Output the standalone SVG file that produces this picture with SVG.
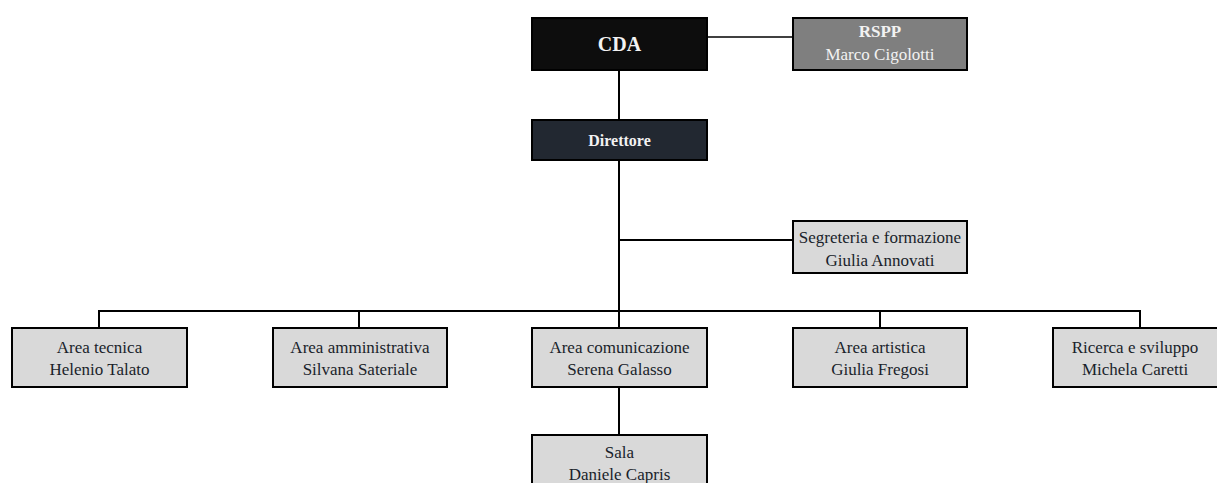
<svg xmlns="http://www.w3.org/2000/svg" width="1217" height="483" viewBox="0 0 1217 483">
<style>
.box{stroke:#000;stroke-width:2}
.light{fill:#d9d9d9}
.t{font-family:"Liberation Serif","Times New Roman",serif;font-size:17px;fill:#1a1f2b;text-anchor:middle}
.w{fill:#f2f2f2}
.b{font-weight:bold}
.ln{stroke:#000;stroke-width:2;fill:none}
</style>
<rect width="1217" height="483" fill="#fff"/>
<g id="connectors">
<line class="ln" x1="707" y1="37" x2="793" y2="37" style="stroke-width:1.5"/>
<line class="ln" x1="619" y1="70" x2="619" y2="120"/>
<line class="ln" x1="619" y1="160" x2="619" y2="329"/>
<line class="ln" x1="619" y1="240" x2="793" y2="240"/>
<polyline class="ln" points="99,328 99,311 1140,311 1140,328"/>
<line class="ln" x1="359" y1="311" x2="359" y2="328"/>
<line class="ln" x1="880" y1="311" x2="880" y2="328"/>
<line class="ln" x1="619" y1="388" x2="619" y2="435"/>
</g>
<g id="cda">
<rect class="box" x="532" y="18" width="175" height="52" fill="#0d0d0d"/>
<text class="t w b" x="619.5" y="51" style="font-size:20px">CDA</text>
</g>
<g id="rspp">
<rect class="box" x="793" y="18" width="174" height="52" fill="#7f7f7f"/>
<text class="t w b" x="880" y="37">RSPP</text>
<text class="t w" x="880" y="60">Marco Cigolotti</text>
</g>
<g id="direttore">
<rect class="box" x="532" y="120" width="175" height="40" fill="#222831"/>
<text class="t w b" x="619.5" y="146" style="font-size:16px">Direttore</text>
</g>
<g id="segreteria">
<rect class="box light" x="793" y="221" width="174" height="52"/>
<text class="t" x="880" y="243">Segreteria e formazione</text>
<text class="t" x="880" y="266">Giulia Annovati</text>
</g>
<g id="area-tecnica">
<rect class="box light" x="12" y="328" width="175" height="59"/>
<text class="t" x="99.5" y="353">Area tecnica</text>
<text class="t" x="99.5" y="375">Helenio Talato</text>
</g>
<g id="area-amministrativa">
<rect class="box light" x="273" y="328" width="174" height="59"/>
<text class="t" x="360" y="353">Area amministrativa</text>
<text class="t" x="360" y="375">Silvana Sateriale</text>
</g>
<g id="area-comunicazione">
<rect class="box light" x="532" y="328" width="175" height="59"/>
<text class="t" x="619.5" y="353">Area comunicazione</text>
<text class="t" x="619.5" y="375">Serena Galasso</text>
</g>
<g id="area-artistica">
<rect class="box light" x="793" y="328" width="174" height="59"/>
<text class="t" x="880" y="353">Area artistica</text>
<text class="t" x="880" y="375">Giulia Fregosi</text>
</g>
<g id="ricerca">
<rect class="box light" x="1053" y="328" width="175" height="59"/>
<text class="t" x="1135" y="353">Ricerca e sviluppo</text>
<text class="t" x="1135" y="375">Michela Caretti</text>
</g>
<g id="sala">
<rect class="box light" x="532" y="435" width="175" height="60"/>
<text class="t" x="619.5" y="458">Sala</text>
<text class="t" x="619.5" y="480">Daniele Capris</text>
</g>
</svg>
